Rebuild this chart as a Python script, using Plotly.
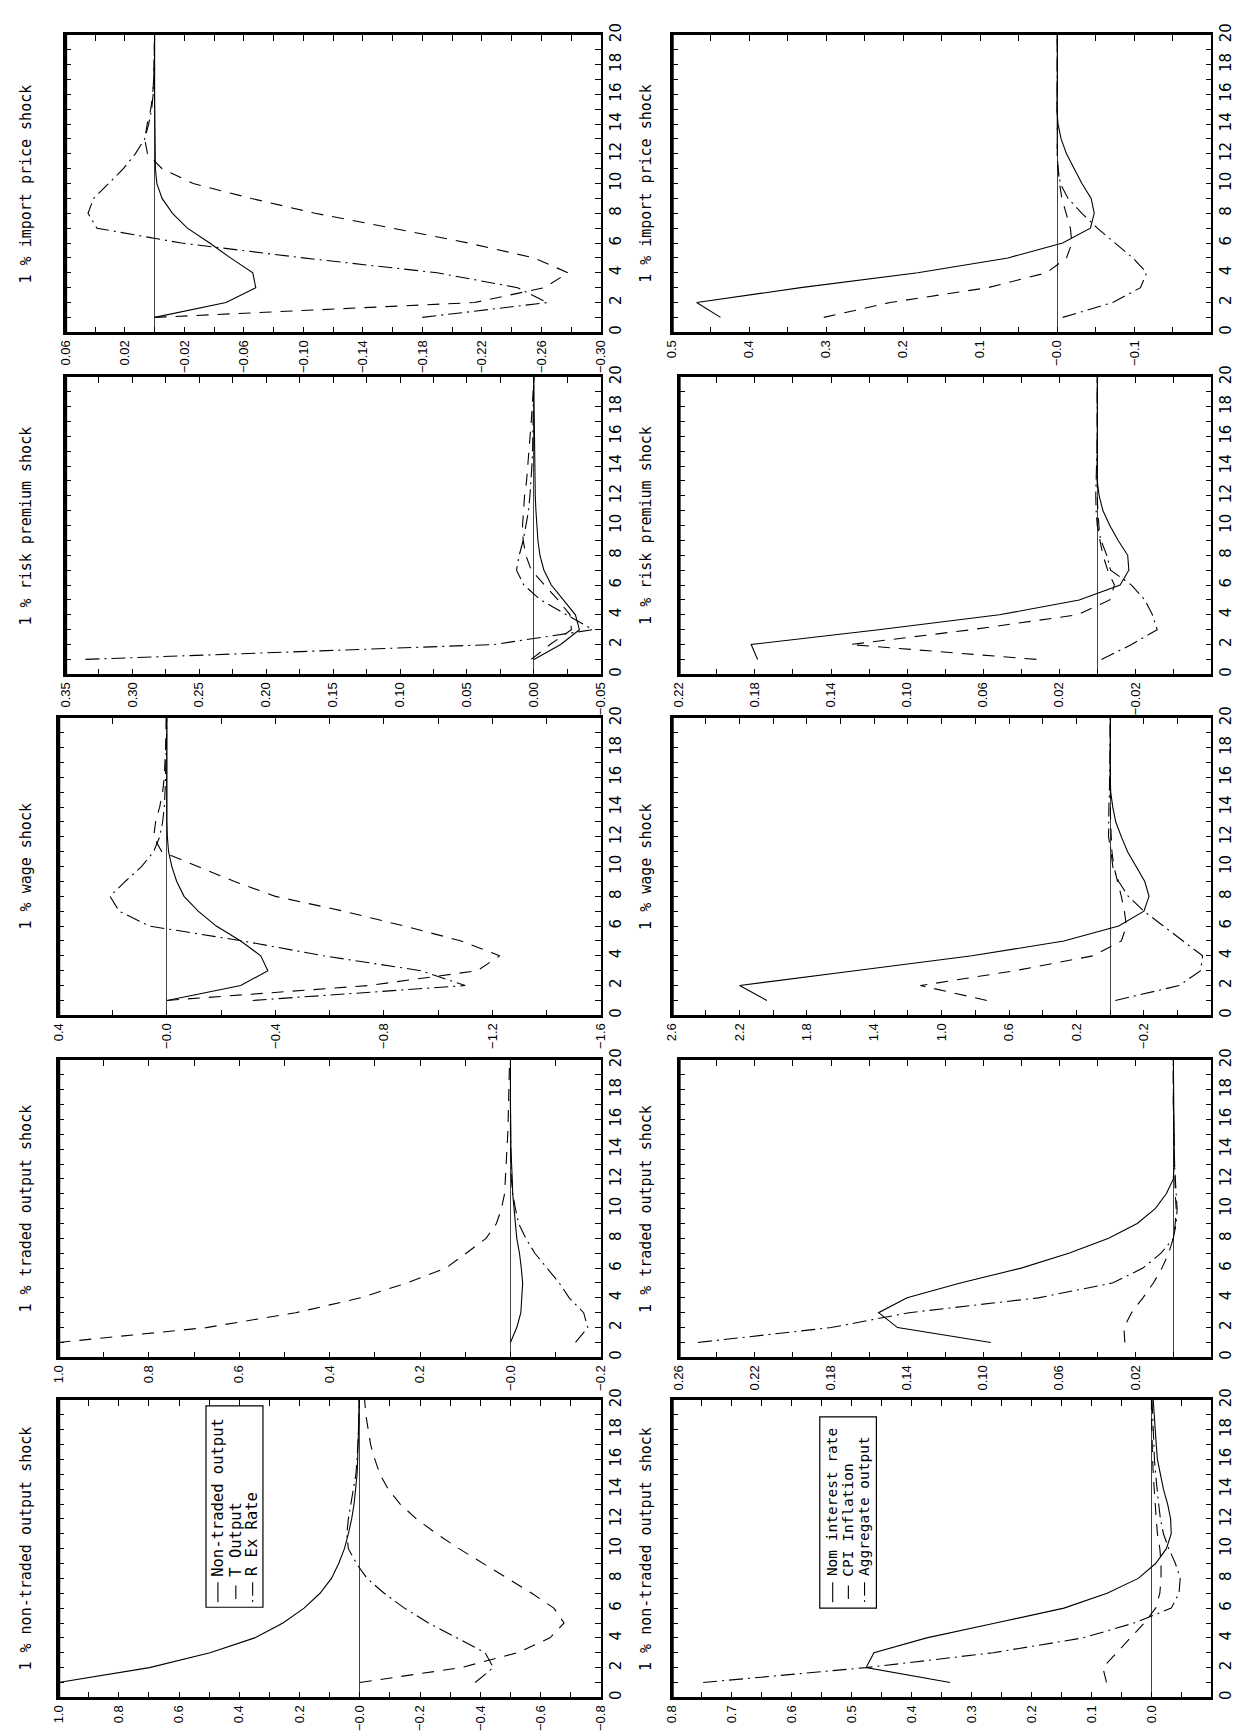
import numpy as np
import plotly.graph_objects as go

W, H = 1241, 1733

# ---------------- data ----------------
horizon = list(range(1, 21))
horizon_ticks = list(range(0, 21))
horizon_labels = [str(v) if v % 2 == 0 else "" for v in horizon_ticks]

shock_titles = ["1 % import price shock", "1 % risk premium shock", "1 % wage shock",
                "1 % traded output shock", "1 % non-traded output shock"]
set1_names = ["Non-traded output", "T Output", "R Ex Rate"]
set2_names = ["Nom interest rate", "CPI Inflation", "Aggregate output"]

# import price shock
imp_nontraded = [0.0, -0.048, -0.068, -0.066, -0.051, -0.037, -0.022, -0.012, -0.005, -0.0015,
                 -0.0005, -0.0003, -0.0002, -0.0001, 0.0, 0.0, 0.0, 0.0, 0.0, 0.0]
imp_toutput = [0.0, -0.215, -0.262, -0.278, -0.255, -0.211, -0.160, -0.108, -0.065, -0.026,
               -0.005, 0.0048, 0.0067, 0.005, 0.0026, 0.0013, 0.0007, 0.0004, 0.0002, 0.0]
imp_rexrate = [-0.180, -0.264, -0.244, -0.190, -0.100, -0.018, 0.0388, 0.0448, 0.041, 0.031,
               0.021, 0.013, 0.0067, 0.004, 0.002, 0.001, 0.0005, 0.0003, 0.0002, 0.0001]
imp_nomrate = [0.437, 0.468, 0.333, 0.181, 0.064, -0.007, -0.043, -0.048, -0.044, -0.032,
               -0.022, -0.012, -0.005, -0.001, 0.0005, 0.0, 0.0, 0.0, 0.0, 0.0]
imp_cpi = [0.303, 0.217, 0.090, 0.014, -0.012, -0.019, -0.017, -0.011, -0.006, -0.003,
           -0.001, 0.0, 0.0, 0.0, 0.0, 0.0, 0.0, 0.0, 0.0, 0.0]
imp_aggout = [-0.007, -0.072, -0.108, -0.116, -0.098, -0.075, -0.052, -0.032, -0.014, -0.004,
              -0.001, 0.0, 0.0, 0.0, 0.0, 0.0, 0.0, 0.0, 0.0, 0.0]

# risk premium shock
risk_nontraded = [0.0, -0.020, -0.034, -0.031, -0.022, -0.013, -0.0075, -0.0045, -0.003, -0.002,
                  -0.0015, -0.001, -0.0008, -0.0005, -0.0004, -0.0003, -0.0002, -0.0001, 0.0, 0.0]
risk_toutput = [0.002, -0.012, -0.028, -0.027, -0.018, -0.008, 0.002, 0.006, 0.008, 0.0085,
                0.008, 0.007, 0.0055, 0.0045, 0.0035, 0.0025, 0.002, 0.0012, 0.0006, 0.0]
risk_rexrate = [0.335, 0.030, -0.044, -0.025, -0.005, 0.0075, 0.013, 0.011, 0.008, 0.006,
                0.004, 0.003, 0.002, 0.0015, 0.001, 0.0008, 0.0005, 0.0003, 0.0002, 0.0001]
risk_nomrate = [0.1786, 0.182, 0.115, 0.0515, 0.0095, -0.012, -0.0166, -0.016, -0.011, -0.0066,
                -0.003, -0.001, 0.0, 0.0, 0.0, 0.0, 0.0, 0.0, 0.0, 0.0]
risk_cpi = [0.032, 0.130, 0.066, 0.0105, -0.0066, -0.009, -0.0055, -0.003, -0.0014, -0.0007,
            -0.0003, 0.0, 0.0, 0.0, 0.0, 0.0, 0.0, 0.0, 0.0, 0.0]
risk_aggout = [-0.0022, -0.018, -0.0315, -0.029, -0.025, -0.018, -0.007, -0.005, -0.002, 0.0,
               0.0006, 0.0008, 0.0006, 0.0003, 0.0001, 0.0, 0.0, 0.0, 0.0, 0.0]

# wage shock
wage_nontraded = [0.0, -0.272, -0.372, -0.346, -0.272, -0.182, -0.115, -0.063, -0.036, -0.018,
                  -0.006, -0.0015, 0.0, 0.0, 0.0, 0.0, 0.0, 0.0, 0.0, 0.0]
wage_toutput = [0.0, -0.742, -1.145, -1.227, -1.085, -0.876, -0.652, -0.400, -0.249, -0.115,
                0.019, 0.049, 0.042, 0.027, 0.016, 0.010, 0.007, 0.005, 0.004, 0.003]
wage_rexrate = [-0.316, -1.100, -0.936, -0.578, -0.279, 0.064, 0.176, 0.210, 0.154, 0.094,
                0.049, 0.027, 0.016, 0.010, 0.007, 0.005, 0.003, 0.002, 0.001, 0.001]
wage_nomrate = [2.037, 2.199, 1.515, 0.820, 0.275, -0.050, -0.200, -0.230, -0.205, -0.154,
                -0.103, -0.066, -0.033, -0.015, -0.003, 0.0, 0.0, 0.0, 0.0, 0.0]
wage_cpi = [0.732, 1.126, 0.565, 0.101, -0.066, -0.096, -0.084, -0.066, -0.043, -0.022,
            -0.010, -0.004, -0.002, -0.001, 0.0, 0.0, 0.0, 0.0, 0.0, 0.0]
wage_aggout = [-0.030, -0.409, -0.536, -0.548, -0.432, -0.316, -0.200, -0.107, -0.050, -0.015,
               -0.005, 0.010, 0.010, 0.008, 0.005, 0.003, 0.002, 0.001, 0.0, 0.0]

# traded output shock
trad_nontraded = [0.0, -0.014, -0.023, -0.025, -0.027, -0.024, -0.020, -0.014, -0.011, -0.008,
                  -0.005, -0.004, -0.002, -0.001, -0.001, 0.0, 0.0, 0.0, 0.0, 0.0]
trad_toutput = [1.0, 0.673, 0.475, 0.332, 0.229, 0.143, 0.098, 0.054, 0.031, 0.020,
                0.013, 0.011, 0.009, 0.007, 0.006, 0.005, 0.004, 0.003, 0.002, 0.002]
trad_rexrate = [-0.144, -0.171, -0.162, -0.130, -0.108, -0.081, -0.054, -0.034, -0.018, -0.011,
                -0.005, -0.002, -0.001, 0.0, 0.0, 0.0, 0.0, 0.0, 0.0, 0.0]
trad_nomrate = [0.096, 0.145, 0.155, 0.140, 0.112, 0.080, 0.055, 0.034, 0.019, 0.0095,
                0.0037, 0.0, -0.0004, -0.0005, -0.0004, -0.0003, -0.0002, -0.0001, 0.0, 0.0]
trad_cpi = [0.0255, 0.026, 0.022, 0.016, 0.0105, 0.006, 0.0025, 0.0, -0.001, -0.0015,
            -0.001, -0.0008, -0.0005, -0.0003, -0.0002, -0.0001, 0.0, 0.0, 0.0, 0.0]
trad_aggout = [0.250, 0.180, 0.139, 0.071, 0.032, 0.016, 0.0065, 0.0, -0.0015, -0.002,
               -0.0015, -0.001, -0.0006, -0.0004, -0.0002, 0.0, 0.0, 0.0, 0.0, 0.0]

# non-traded output shock
nont_nontraded = [1.0, 0.698, 0.497, 0.349, 0.255, 0.185, 0.132, 0.094, 0.070, 0.051,
                  0.038, 0.027, 0.019, 0.013, 0.009, 0.007, 0.005, 0.004, 0.003, 0.003]
nont_toutput = [0.0, -0.336, -0.523, -0.631, -0.678, -0.644, -0.571, -0.490, -0.410, -0.329,
                -0.255, -0.188, -0.134, -0.094, -0.067, -0.050, -0.036, -0.027, -0.020, -0.016]
nont_rexrate = [-0.383, -0.443, -0.416, -0.322, -0.228, -0.148, -0.081, -0.024, 0.011, 0.038,
                0.043, 0.038, 0.030, 0.020, 0.013, 0.009, 0.006, 0.004, 0.003, 0.002]
nont_nomrate = [0.336, 0.476, 0.463, 0.375, 0.260, 0.146, 0.074, 0.022, -0.007, -0.025,
                -0.033, -0.032, -0.027, -0.020, -0.015, -0.010, -0.008, -0.006, -0.004, -0.003]
nont_cpi = [0.075, 0.081, 0.058, 0.035, 0.012, -0.007, -0.014, -0.016, -0.016, -0.014,
            -0.010, -0.008, -0.006, -0.004, -0.003, -0.002, -0.001, -0.001, 0.0, 0.0]
nont_aggout = [0.748, 0.476, 0.264, 0.114, 0.029, -0.033, -0.046, -0.048, -0.040, -0.029,
               -0.020, -0.015, -0.012, -0.009, -0.007, -0.005, -0.004, -0.003, -0.002, -0.001]

# tick labels of the value axes
imp1_ticks = [0.06, 0.02, -0.02, -0.06, -0.10, -0.14, -0.18, -0.22, -0.26, -0.30]
imp1_labels = ["0.06", "0.02", "−0.02", "−0.06", "−0.10", "−0.14", "−0.18", "−0.22", "−0.26", "−0.30"]
imp2_ticks = [0.5, 0.4, 0.3, 0.2, 0.1, 0.0, -0.1]
imp2_labels = ["0.5", "0.4", "0.3", "0.2", "0.1", "−0.0", "−0.1"]
risk1_ticks = [0.35, 0.30, 0.25, 0.20, 0.15, 0.10, 0.05, 0.0, -0.05]
risk1_labels = ["0.35", "0.30", "0.25", "0.20", "0.15", "0.10", "0.05", "0.00", "−0.05"]
risk2_ticks = [0.22, 0.18, 0.14, 0.10, 0.06, 0.02, -0.02]
risk2_labels = ["0.22", "0.18", "0.14", "0.10", "0.06", "0.02", "−0.02"]
wage1_ticks = [0.4, 0.0, -0.4, -0.8, -1.2, -1.6]
wage1_labels = ["0.4", "−0.0", "−0.4", "−0.8", "−1.2", "−1.6"]
wage2_ticks = [2.6, 2.2, 1.8, 1.4, 1.0, 0.6, 0.2, -0.2]
wage2_labels = ["2.6", "2.2", "1.8", "1.4", "1.0", "0.6", "0.2", "−0.2"]
trad1_ticks = [1.0, 0.8, 0.6, 0.4, 0.2, 0.0, -0.2]
trad1_labels = ["1.0", "0.8", "0.6", "0.4", "0.2", "−0.0", "−0.2"]
trad2_ticks = [0.26, 0.22, 0.18, 0.14, 0.10, 0.06, 0.02]
trad2_labels = ["0.26", "0.22", "0.18", "0.14", "0.10", "0.06", "0.02"]
nont1_ticks = [1.0, 0.8, 0.6, 0.4, 0.2, 0.0, -0.2, -0.4, -0.6, -0.8]
nont1_labels = ["1.0", "0.8", "0.6", "0.4", "0.2", "−0.0", "−0.2", "−0.4", "−0.6", "−0.8"]
nont2_ticks = [0.8, 0.7, 0.6, 0.5, 0.4, 0.3, 0.2, 0.1, 0.0]
nont2_labels = ["0.8", "0.7", "0.6", "0.5", "0.4", "0.3", "0.2", "0.1", "0.0"]

# ---------------- panel definitions (row, col) ----------------
panels = [
    dict(row=0, col=0, series=[imp_nontraded, imp_toutput, imp_rexrate], ticks=imp1_ticks, labels=imp1_labels, rng=(0.06, -0.30), minor=0.02),
    dict(row=0, col=1, series=[imp_nomrate, imp_cpi, imp_aggout], ticks=imp2_ticks, labels=imp2_labels, rng=(0.5, -0.2), minor=0.05),
    dict(row=1, col=0, series=[risk_nontraded, risk_toutput, risk_rexrate], ticks=risk1_ticks, labels=risk1_labels, rng=(0.35, -0.05), minor=0.025),
    dict(row=1, col=1, series=[risk_nomrate, risk_cpi, risk_aggout], ticks=risk2_ticks, labels=risk2_labels, rng=(0.22, -0.06), minor=0.02),
    dict(row=2, col=0, series=[wage_nontraded, wage_toutput, wage_rexrate], ticks=wage1_ticks, labels=wage1_labels, rng=(0.4, -1.6), minor=0.2),
    dict(row=2, col=1, series=[wage_nomrate, wage_cpi, wage_aggout], ticks=wage2_ticks, labels=wage2_labels, rng=(2.6, -0.6), minor=0.2),
    dict(row=3, col=0, series=[trad_nontraded, trad_toutput, trad_rexrate], ticks=trad1_ticks, labels=trad1_labels, rng=(1.0, -0.2), minor=0.1),
    dict(row=3, col=1, series=[trad_nomrate, trad_cpi, trad_aggout], ticks=trad2_ticks, labels=trad2_labels, rng=(0.26, -0.02), minor=0.02),
    dict(row=4, col=0, series=[nont_nontraded, nont_toutput, nont_rexrate], ticks=nont1_ticks, labels=nont1_labels, rng=(1.0, -0.8), minor=0.1),
    dict(row=4, col=1, series=[nont_nomrate, nont_cpi, nont_aggout], ticks=nont2_ticks, labels=nont2_labels, rng=(0.8, -0.1), minor=0.05),
]

# geometry in pixels
row_tops = [15, 360, 704, 1049, 1392]
panel_h = 300
left_x0 = {0: [50, 50, 43, 43, 43], 1: [664, 671, 664, 671, 664]}
col_x1 = {0: 592, 1: 1210}
title_x = {0: 10, 1: 637}

dash_styles = ["solid", "12px,9px", "14px,5px,2px,5px"]
FONT = "DejaVu Sans, Liberation Sans, Arial, sans-serif"
MONO = "DejaVu Sans Mono, Liberation Mono, monospace"
TICKFONT = "Liberation Sans Narrow, Arial Narrow, Liberation Sans, Arial, sans-serif"

fig = go.Figure()
layout = dict(width=W, height=H, margin=dict(l=0, r=0, t=0, b=0),
              paper_bgcolor="white", plot_bgcolor="white", showlegend=False,
              font=dict(family=FONT, color="black"))
annotations, shapes = [], []

for i, p in enumerate(panels):
    n = i + 1
    sfx = "" if n == 1 else str(n)
    r, c = p["row"], p["col"]
    x0 = left_x0[c][r]
    x1 = col_x1[c]
    y0 = row_tops[r]
    y1 = y0 + panel_h
    xdom = [x0 / W, x1 / W]
    ydom = [1 - y1 / H, 1 - y0 / H]

    hi, lo = p["rng"]
    step = p["minor"]
    allt = np.round(np.arange(lo, hi + step / 2, step), 6)
    lab_map = {round(v, 6): t for v, t in zip(p["ticks"], p["labels"])}
    tickvals = [float(v) for v in allt]
    ticktext = [lab_map.get(round(float(v), 6), "") for v in allt]

    layout["xaxis" + sfx] = dict(
        domain=xdom, anchor="y" + sfx, range=[hi, lo], autorange=False,
        tickmode="array", tickvals=tickvals, ticktext=ticktext, tickangle=-90,
        ticks="inside", ticklen=6, tickwidth=1, tickcolor="black",
        showline=True, linewidth=2.5, linecolor="black", mirror="ticks",
        showgrid=False, zeroline=True, zerolinecolor="#444", zerolinewidth=1,
        tickfont=dict(size=13, family=TICKFONT, color="black"))
    layout["yaxis" + sfx] = dict(
        domain=ydom, anchor="x" + sfx, side="right", range=[0, 20], autorange=False,
        tickmode="array", tickvals=horizon_ticks, ticktext=horizon_labels, tickangle=-90,
        ticks="inside", ticklen=6, tickwidth=1, tickcolor="black",
        showline=True, linewidth=1.5, linecolor="black", mirror="ticks",
        showgrid=False, zeroline=False,
        tickfont=dict(size=15, family=FONT, color="black"))

    # thick left border
    shapes.append(dict(type="line", xref="x%s domain" % sfx, yref="y%s domain" % sfx,
                       x0=0, x1=0, y0=0, y1=1, line=dict(color="black", width=3.5)))

    names = set1_names if c == 0 else set2_names
    for k, vals in enumerate(p["series"]):
        fig.add_trace(go.Scatter(x=vals, y=horizon, mode="lines", name=names[k],
                                 line=dict(color="black", width=1.1, dash=dash_styles[k]),
                                 xaxis="x" + sfx, yaxis="y" + sfx, showlegend=False,
                                 hoverinfo="skip"))

    annotations.append(dict(text=shock_titles[r], xref="paper", yref="paper",
                            x=title_x[c] / W, y=1 - (y0 + panel_h / 2) / H,
                            xanchor="center", yanchor="middle", textangle=-90,
                            showarrow=False, font=dict(size=15, family=MONO, color="black")))

    # legend drawn inside the non-traded output shock panels
    if r == 4:
        bx0, bx1, by0, by1 = (0.272, 0.377, 0.303, 0.98) if c == 0 else (0.274, 0.379, 0.30, 0.943)
        cols = [0.294, 0.327, 0.358] if c == 0 else [0.298, 0.327, 0.357]
        xr, yr = "x%s domain" % sfx, "y%s domain" % sfx
        shapes.append(dict(type="rect", xref=xr, yref=yr, x0=bx0, x1=bx1, y0=by0, y1=by1,
                           line=dict(color="black", width=1.2), fillcolor="white", layer="above"))
        shapes.append(dict(type="line", xref=xr, yref=yr, x0=cols[0], x1=cols[0], y0=0.32, y1=0.387,
                           line=dict(color="black", width=1.1)))
        shapes.append(dict(type="line", xref=xr, yref=yr, x0=cols[1], x1=cols[1], y0=0.331, y1=0.376,
                           line=dict(color="black", width=1.1)))
        shapes.append(dict(type="line", xref=xr, yref=yr, x0=cols[2], x1=cols[2], y0=0.321, y1=0.327,
                           line=dict(color="black", width=1.1)))
        shapes.append(dict(type="line", xref=xr, yref=yr, x0=cols[2], x1=cols[2], y0=0.342, y1=0.387,
                           line=dict(color="black", width=1.1)))
        lsize = 15.5 if c == 0 else 14.5
        for k in range(3):
            annotations.append(dict(text=names[k], xref=xr, yref=yr, x=cols[k], y=0.40,
                                    xanchor="center", yanchor="bottom", textangle=-90,
                                    showarrow=False, font=dict(size=lsize, family=MONO, color="black")))

layout["annotations"] = annotations
layout["shapes"] = shapes
fig.update_layout(**layout)
fig.write_html("out.html")
